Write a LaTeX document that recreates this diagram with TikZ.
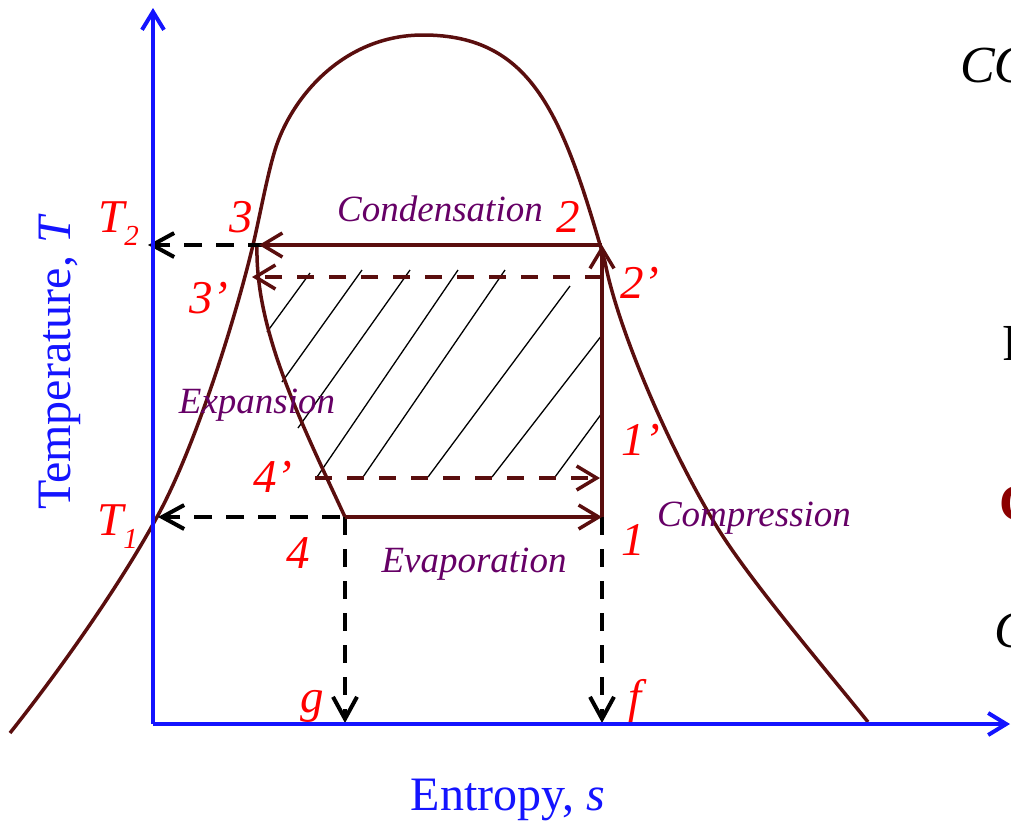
\documentclass[tikz,border=0pt]{standalone}
\usepackage{fontspec}
\setmainfont{Liberation Serif}
\usetikzlibrary{arrows.meta}
\definecolor{curvebrown}{RGB}{90,14,14}
\definecolor{lblpurple}{RGB}{102,0,102}
\definecolor{axisblue}{RGB}{20,20,255}
\definecolor{darkredc}{RGB}{139,0,0}
\begin{document}
\begin{tikzpicture}[x=1pt,y=-1pt,
 axisln/.style={axisblue,line width=4pt,-{Straight Barb[length=18pt,width=22pt]}},
 dome/.style={curvebrown,line width=3.5pt,line join=round},
 cyc/.style={curvebrown,line width=3.5pt,-{Straight Barb[length=20pt,width=24pt]}},
 cycdash/.style={cyc,dash pattern=on 17pt off 15pt},
 proj/.style={black,line width=4pt,dash pattern=on 18pt off 14pt,-{Straight Barb[length=22pt,width=24pt]}},
 hatchln/.style={black,line width=1.3pt},
 redlbl/.style={text=red,font=\fontsize{47}{50}\selectfont\itshape,inner sep=0pt,anchor=base west},
 proc/.style={text=lblpurple,font=\fontsize{37}{40}\selectfont\itshape,inner sep=0pt,anchor=base},
 axlbl/.style={text=axisblue,font=\fontsize{48}{52}\selectfont,inner sep=0pt,anchor=base},
 cuttext/.style={font=\fontsize{52}{56}\selectfont,inner sep=0pt,anchor=base west}
]
\useasboundingbox (0,0) rectangle (1011,820);

% key points
\coordinate (O) at (153,724);
\coordinate (Ytip) at (153,8);
\coordinate (Xtip) at (1010,724);
\coordinate (p2) at (602,245);
\coordinate (p3) at (259,245);
\coordinate (p3d) at (252,277);
\coordinate (p2d) at (602,277);
\coordinate (p4d) at (315,478);
\coordinate (p1d) at (600,478);
\coordinate (p4) at (345,517);
\coordinate (p1) at (602,517);
\coordinate (t2) at (148,245);
\coordinate (t1) at (158,517);
\coordinate (g) at (345,723);
\coordinate (f) at (602,723);
\coordinate (c3) at (298,245);
\coordinate (c4) at (372,517);

% hatching
\draw[hatchln] (310,273) -- (267,332);
\draw[hatchln] (362,270) -- (282,382);
\draw[hatchln] (410,270) -- (298,428);
\draw[hatchln] (458,270) -- (317,477);
\draw[hatchln] (505,270) -- (363,477);
\draw[hatchln] (570,286) -- (428,477);
\draw[hatchln] (602,335) -- (492,477);
\draw[hatchln] (602,413) -- (555,477);

% saturation dome
\draw[dome] (10,733) .. controls (60,670) and (120,585) .. (157,517)
  .. controls (195,448) and (235,320) .. (253,245)
  .. controls (259,220) and (267,176) .. (275,150)
  .. controls (291,98) and (343,35) .. (423,35)
  .. controls (533,35) and (563,116) .. (605,262)
  .. controls (618,330) and (670,450) .. (717,527)
  .. controls (750,581) and (828,672) .. (868,722);
% expansion curve
\draw[dome] (257,245) .. controls (255,330) and (300,420) .. (345,517);

% projection lines
\draw[proj] (c3) -- (t2);
\draw[proj] (c4) -- (t1);
\draw[proj] (p4) -- (g);
\draw[proj] (p1) -- (f);

% cycle
\draw[cyc] (p2) -- (p3);
\draw[cyc] (p1) -- (p2);
\draw[cyc] (p4) -- (p1);
\draw[cycdash] (p2d) -- (p3d);
\draw[cycdash] (p4d) -- (p1d);

% axes
\draw[axisln] (O) -- (Ytip);
\draw[axisln] (O) -- (Xtip);

% labels
\node[redlbl] (lT2) at (98,232) {T\raisebox{-13pt}{\fontsize{29}{29}\selectfont 2}};
\node[redlbl] (lT1) at (97,535) {T\raisebox{-13pt}{\fontsize{29}{29}\selectfont 1}};
\node[redlbl] (l3) at (229,232) {3};
\node[redlbl] (l3d) at (189,313) {3’};
\node[redlbl] (l2) at (556,232) {2};
\node[redlbl] (l2d) at (620,298) {2’};
\node[redlbl] (l1d) at (621,455) {1’};
\node[redlbl] (l1) at (621,555) {1};
\node[redlbl] (l4d) at (253,492) {4’};
\node[redlbl] (l4) at (286,568) {4};
\node[redlbl] (lg) at (300,712) {g};
\node[redlbl] (lf) at (628,712) {f};

\node[proc] (cond) at (440,221) {Condensation};
\node[proc] (expn) at (257,413) {Expansion};
\node[proc] (evap) at (474,572) {Evaporation};
\node[proc] (comp) at (754,526) {Compression};

\node[axlbl] (xl) at (508,810) {Entropy, \textit{s}};
\node[axlbl,rotate=90] (yl) at (70,362) {Temperature, \textit{T}};

% text cut by the right edge, as in the reference
\node[cuttext] (r1) at (960,82) {\itshape CO};
\node[cuttext] (r2) at (1002,360) {R};
\node[cuttext,text=darkredc] (r3) at (999,520) {\bfseries C};
\node[cuttext] (r4) at (994,647) {\itshape C};
\end{tikzpicture}
\end{document}
